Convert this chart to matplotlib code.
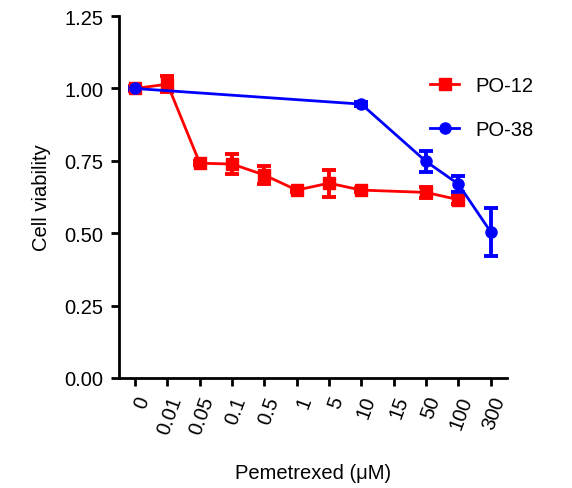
import matplotlib.pyplot as plt
from matplotlib.lines import Line2D
import numpy as np

plt.rcParams['font.family'] = ['Liberation Sans', 'DejaVu Sans']

# Doses on the x axis (categorical)
DOSES = ["0", "0.01", "0.05", "0.1", "0.5", "1", "5", "10", "15", "50", "100", "300"]

# PO-12: dose labels, mean viability, error (SEM)
PO12_DOSES = ["0", "0.01", "0.05", "0.1", "0.5", "1", "5", "10", "50", "100"]
PO12_MEAN = [1.00, 1.015, 0.742, 0.739, 0.701, 0.649, 0.673, 0.649, 0.641, 0.616]
PO12_ERR = [0.01, 0.028, 0.008, 0.035, 0.03, 0.008, 0.047, 0.006, 0.018, 0.014]

# PO-38
PO38_DOSES = ["0", "10", "50", "100", "300"]
PO38_MEAN = [1.00, 0.946, 0.748, 0.670, 0.505]
PO38_ERR = [0.005, 0.006, 0.036, 0.027, 0.083]

FS = 14.5

fig = plt.figure(figsize=(5.72, 4.89), dpi=100)
ax = fig.add_axes([0.208, 0.225, 0.678, 0.74])

pos = {d: i for i, d in enumerate(DOSES)}

def draw(doses, mean, err, color, marker, ms):
    x = [pos[d] for d in doses]
    ax.errorbar(x, mean, yerr=err, color=color, marker=marker, markersize=ms,
                linewidth=2, elinewidth=2.8, capsize=5, capthick=2.8, clip_on=False)
    return Line2D([], [], color=color, marker=marker, markersize=ms, linewidth=2)

h12 = draw(PO12_DOSES, PO12_MEAN, PO12_ERR, "#FF0000", "s", 9)
h38 = draw(PO38_DOSES, PO38_MEAN, PO38_ERR, "#0000FF", "o", 8)

ax.set_xlim(-0.5, 11.5)
ax.set_ylim(0, 1.25)
ax.set_yticks(np.arange(0, 1.26, 0.25))
ax.set_yticklabels([f"{v:.2f}" for v in np.arange(0, 1.26, 0.25)], fontsize=FS)
ax.set_xticks(range(len(DOSES)))
ax.set_xticklabels(DOSES, fontsize=FS, rotation=70, ha='right', va='top',
                   rotation_mode='anchor')

for s in ["top", "right"]:
    ax.spines[s].set_visible(False)
for s in ["left", "bottom"]:
    ax.spines[s].set_linewidth(2)
ax.tick_params(width=2, length=6, direction='out', pad=5)

ax.set_ylabel("Cell viability", fontsize=FS, labelpad=10)
ax.set_xlabel("Pemetrexed (μM)", fontsize=FS, labelpad=19)

ax.legend([h12, h38], ["PO-12", "PO-38"], loc='upper left',
          bbox_to_anchor=(0.72, 0.88), frameon=False,
          fontsize=FS, handlelength=1.45, labelspacing=1.25, handletextpad=0.8,
          bbox_transform=fig.transFigure)

fig.savefig("out.png", dpi=100)
